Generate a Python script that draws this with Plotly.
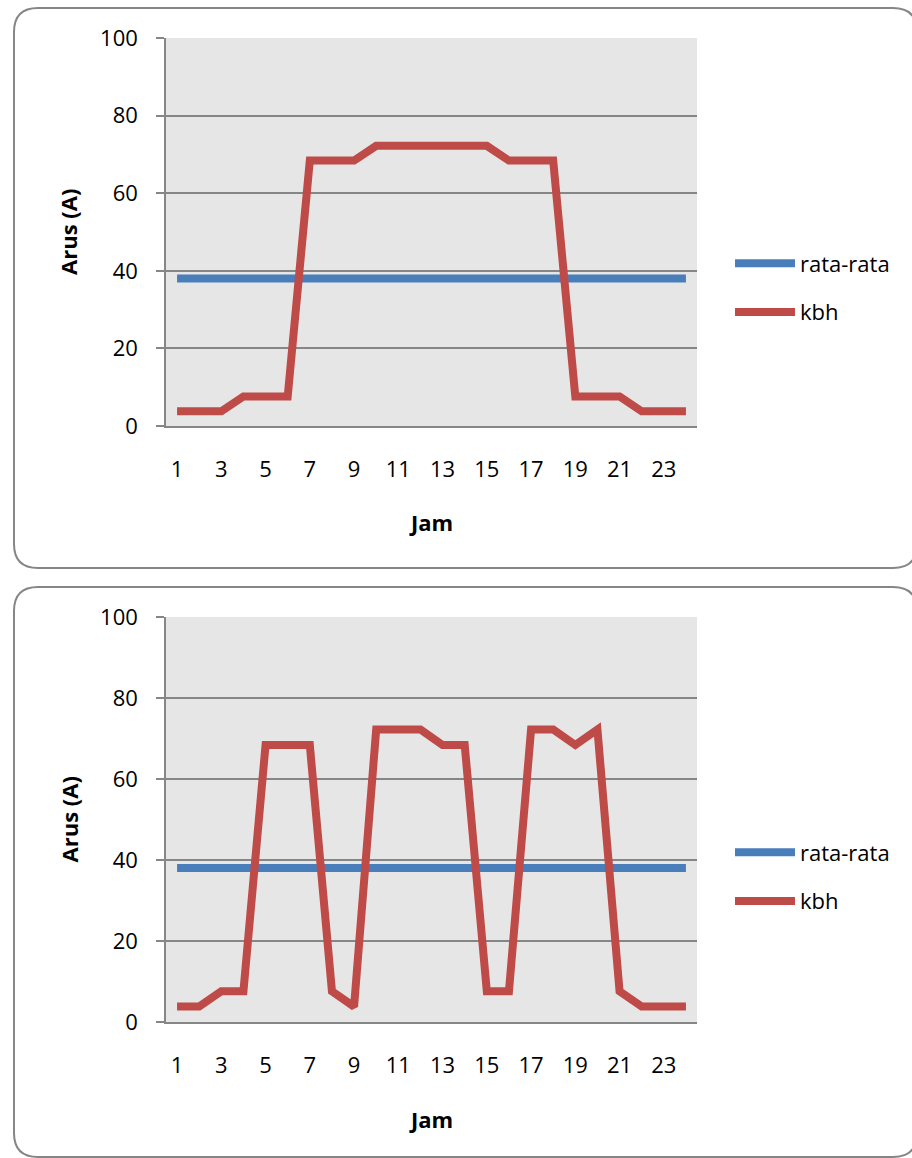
import plotly.graph_objects as go

W, H = 912, 1158

# ---------------- data ----------------
hours = list(range(1, 25))
x_tick_vals = [1, 3, 5, 7, 9, 11, 13, 15, 17, 19, 21, 23]
y_tick_vals = [0, 20, 40, 60, 80, 100]

rata_top = [38, 38, 38, 38, 38, 38, 38, 38, 38, 38, 38, 38,
            38, 38, 38, 38, 38, 38, 38, 38, 38, 38, 38, 38]
kbh_top = [3.8, 3.8, 3.8, 7.6, 7.6, 7.6, 68.4, 68.4, 68.4, 72.2, 72.2, 72.2,
           72.2, 72.2, 72.2, 68.4, 68.4, 68.4, 7.6, 7.6, 7.6, 3.8, 3.8, 3.8]

rata_bottom = [38, 38, 38, 38, 38, 38, 38, 38, 38, 38, 38, 38,
               38, 38, 38, 38, 38, 38, 38, 38, 38, 38, 38, 38]
kbh_bottom = [3.8, 3.8, 7.6, 7.6, 68.4, 68.4, 68.4, 7.6, 3.8, 72.2, 72.2, 72.2,
              68.4, 68.4, 7.6, 7.6, 72.2, 72.2, 68.4, 72.2, 7.6, 3.8, 3.8, 3.8]

series_names = ["rata-rata", "kbh"]
x_title = "Jam"
y_title = "Arus (A)"

# ---------------- style ----------------
BLUE = "#4a7ebb"
RED = "#be4b48"
GRID = "#868686"
FONT = "Open Sans"
FS = 22


def px_x(px):
    return px / W


def px_y(py):
    return 1 - py / H


fig = go.Figure()

# top chart traces
fig.add_trace(go.Scatter(x=hours, y=rata_top, name=series_names[0], mode="lines",
                         line=dict(color=BLUE, width=8), xaxis="x", yaxis="y",
                         legend="legend", legendgroup="a1"))
fig.add_trace(go.Scatter(x=hours, y=kbh_top, name=series_names[1], mode="lines",
                         line=dict(color=RED, width=8), xaxis="x", yaxis="y",
                         legend="legend", legendgroup="b1"))
# bottom chart traces
fig.add_trace(go.Scatter(x=hours, y=rata_bottom, name=series_names[0], mode="lines",
                         line=dict(color=BLUE, width=8), xaxis="x2", yaxis="y2",
                         legend="legend2", legendgroup="a2"))
fig.add_trace(go.Scatter(x=hours, y=kbh_bottom, name=series_names[1], mode="lines",
                         line=dict(color=RED, width=8), xaxis="x2", yaxis="y2",
                         legend="legend2", legendgroup="b2"))

plot_left, plot_right = 166, 697
top_plot = (38, 426)
bot_plot = (617, 1022)

xaxis_common = dict(
    domain=[px_x(plot_left), px_x(plot_right)],
    range=[0.5, 24.5],
    tickmode="array", tickvals=x_tick_vals,
    showgrid=False, zeroline=False,
    showline=True, linecolor=GRID, linewidth=1.5,
    ticks="", ticklabelstandoff=23,
    tickfont=dict(family=FONT, size=FS, color="#000000"),
    fixedrange=True, automargin=False,
)
yaxis_common = dict(
    range=[0, 100],
    tickmode="array", tickvals=y_tick_vals,
    showgrid=True, gridcolor=GRID, gridwidth=1.5,
    zeroline=False,
    showline=True, linecolor=GRID, linewidth=1.5,
    ticks="outside", ticklen=8, tickcolor=GRID, tickwidth=1.5,
    ticklabelstandoff=14,
    tickfont=dict(family=FONT, size=FS, color="#000000"),
    fixedrange=True, automargin=False,
)

fig.update_layout(
    width=W, height=H, autosize=False,
    margin=dict(l=0, r=0, t=0, b=0, pad=0, autoexpand=False),
    paper_bgcolor="#ffffff",
    plot_bgcolor="#e6e6e6",
    font=dict(family=FONT, size=FS, color="#000000"),
    xaxis=dict(xaxis_common, anchor="y"),
    yaxis=dict(yaxis_common, anchor="x",
               domain=[px_y(top_plot[1]), px_y(top_plot[0])]),
    xaxis2=dict(xaxis_common, anchor="y2"),
    yaxis2=dict(yaxis_common, anchor="x2",
                domain=[px_y(bot_plot[1]), px_y(bot_plot[0])]),
    legend=dict(x=px_x(730), y=px_y(288), xanchor="left", yanchor="middle",
                bgcolor="rgba(0,0,0,0)", font=dict(family=FONT, size=FS),
                tracegroupgap=17, itemwidth=60),
    legend2=dict(x=px_x(730), y=px_y(877), xanchor="left", yanchor="middle",
                 bgcolor="rgba(0,0,0,0)", font=dict(family=FONT, size=FS),
                 tracegroupgap=17, itemwidth=60),
    showlegend=True,
)


def rounded_rect(x0, y0, x1, y1, r):
    rx, ry = r / W, r / H
    X0, X1 = px_x(x0), px_x(x1)
    Y0, Y1 = px_y(y0), px_y(y1)  # Y0 top (larger), Y1 bottom
    return (f"M {X0 + rx} {Y0} L {X1 - rx} {Y0} Q {X1} {Y0} {X1} {Y0 - ry} "
            f"L {X1} {Y1 + ry} Q {X1} {Y1} {X1 - rx} {Y1} "
            f"L {X0 + rx} {Y1} Q {X0} {Y1} {X0} {Y1 + ry} "
            f"L {X0} {Y0 - ry} Q {X0} {Y0} {X0 + rx} {Y0} Z")


shapes = []
for (y0, y1) in [(8, 568), (587, 1157)]:
    shapes.append(dict(type="path", xref="paper", yref="paper",
                       path=rounded_rect(14, y0, 917, y1, 24),
                       line=dict(color="#868686", width=2), layer="below"))
fig.update_layout(shapes=shapes)

annotations = []
for (ptop, pbot), jam_y in [(top_plot, 522), (bot_plot, 1119)]:
    annotations.append(dict(text=f"<b>{y_title}</b>", xref="paper", yref="paper",
                            x=px_x(68), y=px_y((ptop + pbot) / 2), textangle=-90,
                            showarrow=False, xanchor="center", yanchor="middle",
                            font=dict(family=FONT, size=FS, color="#000000")))
    annotations.append(dict(text=f"<b>{x_title}</b>", xref="paper", yref="paper",
                            x=px_x(431), y=px_y(jam_y), showarrow=False,
                            xanchor="center", yanchor="middle",
                            font=dict(family=FONT, size=FS, color="#000000")))
fig.update_layout(annotations=annotations)

fig.write_html("out.html")
